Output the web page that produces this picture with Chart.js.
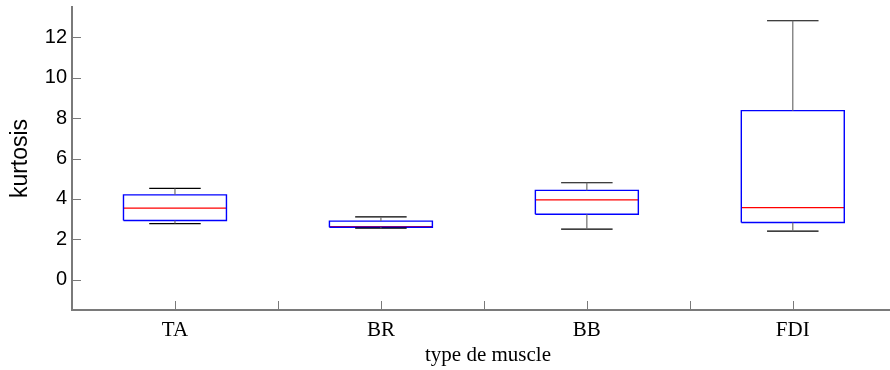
<html>
<head>
    <script src="https://cdn.jsdelivr.net/npm/chart.js"></script>
    <style>
        html, body { margin: 0; padding: 0; overflow: hidden; background: #fff; }
        #wrap { position: absolute; left: 0; top: 0; width: 890px; height: 370px; overflow: hidden; }
    </style>
    <title></title>
</head>
<body>
    <div id="wrap">
        <canvas id="c1" width="904" height="370"></canvas>
    </div>
    <script>
        "use strict";

        // data
        let muscles = ["TA", "BR", "BB", "FDI"];
        let mins    = [2.78, 2.55, 2.50, 2.40];
        let q1s     = [2.93, 2.60, 3.24, 2.83];
        let medians = [3.54, 2.63, 3.95, 3.57];
        let q3s     = [4.20, 2.90, 4.42, 8.37];
        let maxs    = [4.52, 3.11, 4.80, 12.82];

        let yTicks = [0, 2, 4, 6, 8, 10, 12];
        let xTickMarks = [0.5, 1, 1.5, 2, 2.5, 3, 3.5, 4, 4.5];

        let boxHalf = 0.25;
        let capHalf = 0.125;

        // build polylines, null breaks between pieces
        let boxPts = [], medPts = [], stemPts = [], capPts = [];
        for (let i = 0; i < muscles.length; i++)
        {
            let x = i + 1;
            boxPts.push({ x: x - boxHalf, y: q1s[i] }, { x: x + boxHalf, y: q1s[i] },
                        { x: x + boxHalf, y: q3s[i] }, { x: x - boxHalf, y: q3s[i] },
                        { x: x - boxHalf, y: q1s[i] }, { x: x, y: null });
            medPts.push({ x: x - boxHalf, y: medians[i] }, { x: x + boxHalf, y: medians[i] }, { x: x, y: null });
            stemPts.push({ x: x, y: q3s[i] }, { x: x, y: maxs[i] }, { x: x, y: null },
                         { x: x, y: mins[i] }, { x: x, y: q1s[i] }, { x: x, y: null });
            capPts.push({ x: x - capHalf, y: maxs[i] }, { x: x + capHalf, y: maxs[i] }, { x: x, y: null },
                        { x: x - capHalf, y: mins[i] }, { x: x + capHalf, y: mins[i] }, { x: x, y: null });
        }

        function seg(data, color, width)
        {
            return {
                data: data,
                borderColor: color,
                borderWidth: width,
                pointRadius: 0,
                fill: false,
                spanGaps: false,
                tension: 0
            };
        }

        // tick marks pointing inside, like matlab
        let insideTicks = {
            id: "insideTicks",
            afterDatasetsDraw(chart)
            {
                let ctx = chart.ctx;
                let a = chart.chartArea;
                let xs = chart.scales.x, ys = chart.scales.y;
                ctx.save();
                ctx.strokeStyle = "#7a7a7a";
                ctx.lineWidth = 1;
                ctx.beginPath();
                yTicks.forEach(v => {
                    let py = Math.round(ys.getPixelForValue(v)) + 0.5;
                    ctx.moveTo(a.left, py);
                    ctx.lineTo(a.left + 9, py);
                });
                xTickMarks.forEach(v => {
                    let px = Math.round(xs.getPixelForValue(v)) + 0.5;
                    ctx.moveTo(px, a.bottom);
                    ctx.lineTo(px, a.bottom - 9);
                });
                ctx.stroke();
                ctx.restore();
            }
        };

        let params =
        {
            type: "line",
            data: {
                datasets: [
                    seg(stemPts, "#6e6e6e", 1.2),
                    seg(capPts, "#000000", 1.2),
                    seg(boxPts, "#0000ff", 1.4),
                    seg(medPts, "#ff0000", 1.2)
                ]
            },
            options: {
                responsive: false,
                animation: false,
                devicePixelRatio: 1,
                layout: { padding: { top: 7, right: 0, left: 0, bottom: 0 } },
                plugins: {
                    legend: { display: false },
                    tooltip: { enabled: false }
                },
                scales: {
                    x: {
                        type: "linear",
                        min: 0.5,
                        max: 4.54,
                        grid: { display: false, drawTicks: false },
                        border: { display: true, color: "#7a7a7a", width: 2 },
                        afterBuildTicks: s => { s.ticks = muscles.map((m, i) => ({ value: i + 1 })); },
                        afterFit: s => { s.height = 60; s.paddingLeft = 0; s.paddingRight = 0; },
                        ticks: {
                            autoSkip: false,
                            maxRotation: 0,
                            padding: 8,
                            color: "#000",
                            font: { family: "Liberation Serif", size: 21 },
                            callback: v => muscles[Math.round(v) - 1]
                        },
                        title: {
                            display: true,
                            text: "type de muscle",
                            color: "#000",
                            font: { family: "Liberation Serif", size: 21 },
                            padding: { top: 0, bottom: 2 }
                        }
                    },
                    y: {
                        min: -1.5,
                        max: 13.5,
                        grid: { display: false, drawTicks: false },
                        border: { display: true, color: "#7a7a7a", width: 2 },
                        afterBuildTicks: s => { s.ticks = yTicks.map(v => ({ value: v })); },
                        afterFit: s => { s.width = 72; s.paddingTop = 0; s.paddingBottom = 0; },
                        ticks: {
                            padding: 5,
                            color: "#000",
                            font: { family: "Liberation Sans", size: 20 }
                        },
                        title: {
                            display: true,
                            text: "kurtosis",
                            color: "#000",
                            font: { family: "Liberation Sans", size: 23 },
                            padding: { top: 7, bottom: 0 }
                        }
                    }
                }
            },
            plugins: [insideTicks]
        };

        let c1 = document.querySelector("#c1");
        let chart1 = new Chart(c1, params);
    </script>
</body>
</html>
